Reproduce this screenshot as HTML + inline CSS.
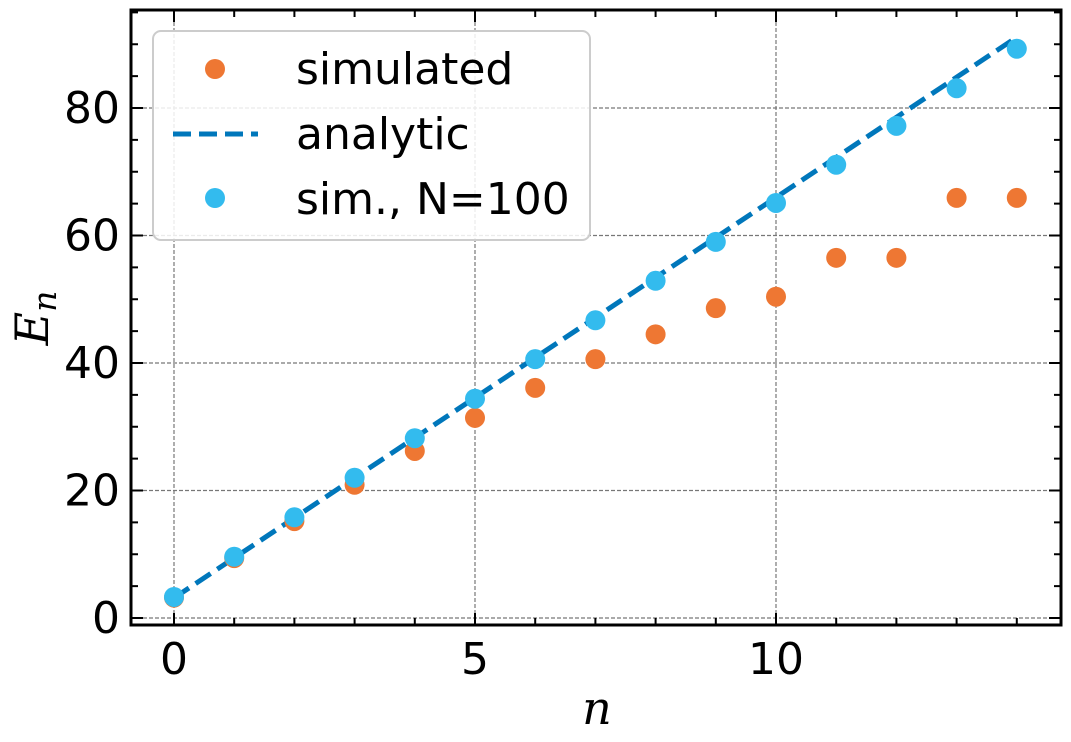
<!DOCTYPE html>
<html><head><meta charset="utf-8"><style>
html,body{margin:0;padding:0;background:#fff;}
svg{display:block;font-family:"DejaVu Sans","Liberation Sans",sans-serif;}
</style></head><body>
<svg id="chart" width="1071" height="742" viewBox="0 0 1071 742">
<g id="grid"></g>
<g id="series"></g>
<g id="axes"></g>
<text x="597" y="724" font-family="DejaVu Serif,serif" font-style="italic" font-size="46" text-anchor="middle">n</text>
<text transform="translate(48,318) rotate(-90)" font-family="DejaVu Serif,serif" font-style="italic" font-size="46" text-anchor="middle">E<tspan font-size="33" dy="8">n</tspan></text>
<g>
<rect x="153" y="31" width="437" height="209" rx="8" fill="#fff" fill-opacity="0.85" stroke="#ccc" stroke-width="2"/>
<circle cx="215" cy="69" r="10" fill="#ee7733"/>
<text x="296" y="84" font-size="44">simulated</text>
<line x1="173" y1="134" x2="258" y2="134" stroke="#0077bb" stroke-width="5" stroke-dasharray="18,8"/>
<text x="296" y="149" font-size="44">analytic</text>
<circle cx="215" cy="198" r="10" fill="#33bbee"/>
<text x="296" y="214" font-size="44">sim., N=100</text>
</g>
</svg>
<script>
const nValues=[0,1,2,3,4,5,6,7,8,9,10,11,12,13,14];
const simulated=[3.2,9.4,15.2,20.9,26.2,31.4,36.1,40.6,44.5,48.6,50.4,56.5,56.5,65.9,65.9];
const simN100=[3.3,9.6,15.8,22.0,28.2,34.4,40.6,46.7,52.9,59.0,65.1,71.1,77.2,83.1,89.3];
const analyticEnds=[0,14];
const xTicks=[0,5,10];
const yTicks=[0,20,40,60,80];
const L=131,R=1061,T=10,B=625;
const x=v=>174+(v-0)*60.2;
const y=v=>618-v*6.375;
const NS="http://www.w3.org/2000/svg";
function mk(p,tag,a){const e=document.createElementNS(NS,tag);for(const k in a)e.setAttribute(k,a[k]);p.appendChild(e);return e;}
const grid=document.getElementById('grid'),ser=document.getElementById('series'),ax=document.getElementById('axes');
xTicks.forEach(t=>{const l=mk(grid,'line',{x1:x(t),x2:x(t),y1:T,y2:B,stroke:'#777','stroke-width':1.2,'stroke-dasharray':'4,2'});

});
yTicks.forEach(t=>{const l=mk(grid,'line',{x1:L,x2:R,y1:y(t),y2:y(t),stroke:'#777','stroke-width':1.2,'stroke-dasharray':'4,2'});

});
const a=mk(ser,'line',{x1:x(analyticEnds[0]),y1:y(Math.PI*(2*analyticEnds[0]+1)),x2:x(analyticEnds[1]),y2:y(Math.PI*(2*analyticEnds[1]+1)),stroke:'#0077bb','stroke-width':5,'stroke-dasharray':'18,8'});


nValues.forEach((n,i)=>{const c=mk(ser,'circle',{cx:x(n),cy:y(simulated[i]),r:10,fill:'#ee7733'});

});
nValues.forEach((n,i)=>{const c=mk(ser,'circle',{cx:x(n),cy:y(simN100[i]),r:10,fill:'#33bbee'});

});
const fr=mk(ax,'rect',{x:L,y:T,width:R-L,height:B-T,fill:'none',stroke:'#000','stroke-width':3});


for(let v=0;v<=14;v++){const major=v%5===0;const len=major?12:7;
mk(ax,'line',{x1:x(v),x2:x(v),y1:B,y2:B-len,stroke:'#000','stroke-width':2});
mk(ax,'line',{x1:x(v),x2:x(v),y1:T,y2:T+len,stroke:'#000','stroke-width':2});}
for(let v=0;v<=95;v+=5){const major=v%20===0;const len=major?12:7;
mk(ax,'line',{x1:L,x2:L+len,y1:y(v),y2:y(v),stroke:'#000','stroke-width':2});
mk(ax,'line',{x1:R,x2:R-len,y1:y(v),y2:y(v),stroke:'#000','stroke-width':2});}
xTicks.forEach(t=>{const e=mk(ax,'text',{x:x(t),y:674,'font-size':44,'text-anchor':'middle'});e.textContent=t;

});
yTicks.forEach(t=>{const e=mk(ax,'text',{x:120,y:y(t)+15,'font-size':44,'text-anchor':'end'});e.textContent=t;

});
</script>
</body></html>
